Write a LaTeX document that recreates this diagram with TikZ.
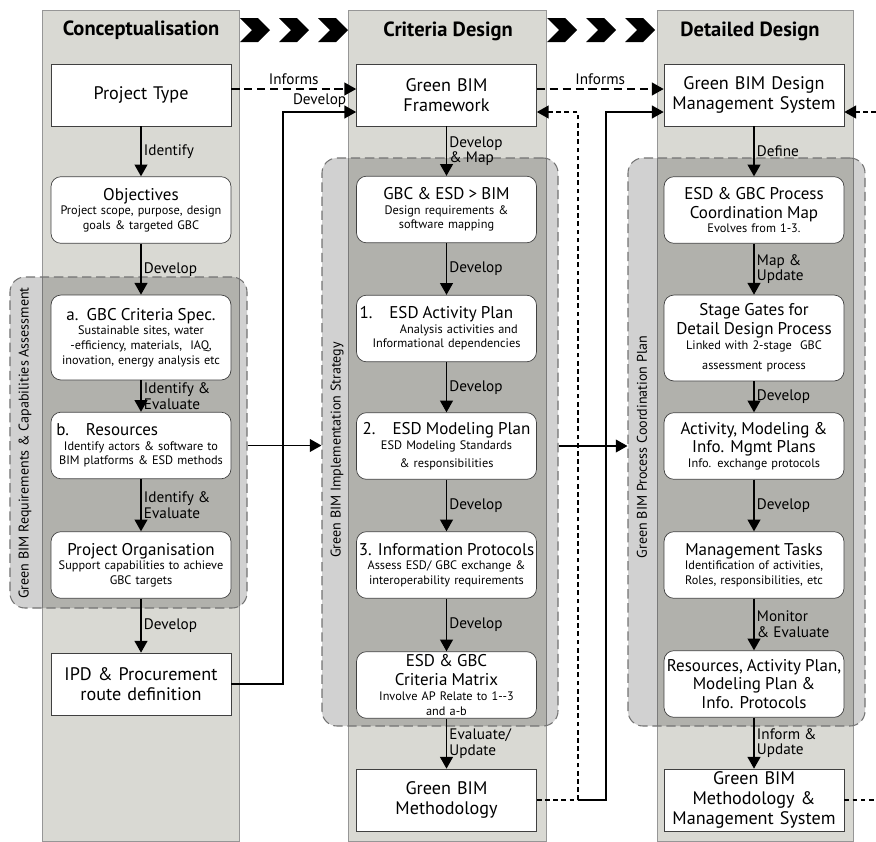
\documentclass[tikz,border=0pt]{standalone}
\usepackage{fontspec}
\setmainfont{PT Sans}
\usetikzlibrary{arrows.meta, positioning}
\definecolor{colgray}{RGB}{217,217,211}
\definecolor{edgegray}{RGB}{150,150,150}
\newcommand{\bhead}[1]{{\fontsize{14.5}{16}\selectfont #1\par}}

\begin{document}
\begin{tikzpicture}[
        x=0.3mm, y=-0.3mm,
        every node/.style={font=\fontsize{13}{13.5}\selectfont},
        phase/.style={fill=colgray, draw=edgegray, line width=0.5pt},
        region/.style={draw=black!55, dash pattern=on 8pt off 4pt, line width=0.9pt,
            fill=black, fill opacity=0.18, rounded corners=4.5mm, inner sep=0pt},
        box/.style={draw=black!75, fill=white, line width=0.6pt, rounded corners=3mm,
            text width=53.6mm, inner xsep=0.2mm, inner ysep=1pt, align=center,
            minimum height=20mm, font=\fontsize{10.5}{12.5}\selectfont},
        sbox/.style={box, sharp corners, minimum height=18.6mm, font=\fontsize{15.5}{17}\selectfont},
        flow/.style={-{Triangle[length=10pt,width=11pt]}, line width=1.1pt},
        lbl/.style={right, align=left, inner xsep=2pt, font=\fontsize{13}{13.5}\selectfont},
        informs/.style={flow, dash pattern=on 7pt off 4pt, line width=1pt},
        fback/.style={flow, dash pattern=on 4pt off 3pt, line width=1pt},
        strat/.style={rotate=90, font=\fontsize{12}{14}\selectfont},
        phasetitle/.style={font=\bfseries\fontsize{17.5}{20}\selectfont}
    ]
    \useasboundingbox (0,0) rectangle (876,841);

    % phase columns
    \draw[phase] (42,10) rectangle (239,841);
    \draw[phase] (348,10) rectangle (546,841);
    \draw[phase] (657,10) rectangle (853,841);
    \foreach \cx in {240,279,318,547,586,625}
        \fill (\cx,18) -- ++(18,0) -- ++(12,12) -- ++(-12,12) -- ++(-18,0) -- ++(12,-12) -- cycle;
    \node[phasetitle] (tconc) at (141,30) {Conceptualisation};
    \node[phasetitle] (tcrit) at (448,31) {Criteria Design};
    \node[phasetitle] (tdet) at (750,31) {Detailed Design};

    % grouped regions
    \node[region, minimum width=71.1mm, minimum height=99.3mm] (reqs) at (128.5,442.5) {};
    \node[region, minimum width=70.8mm, minimum height=170.4mm] (impl) at (440,442) {};
    \node[region, minimum width=71.1mm, minimum height=170.4mm] (coord) at (746.5,442) {};
    \node[strat] (lreqs) at (25,443) {Green BIM Requirements \& Capabilities Assessment};
    \node[strat] (limpl) at (337,450) {Green BIM Implementation Strategy};
    \node[strat] (lcoord) at (642,447) {Green BIM Process Coordination Plan};

    % conceptualisation
    \node[sbox] (ptype) at (141,95) {Project Type};
    \node[box] (obj) at (141,210) {\bhead{Objectives}Project scope, purpose, design\\ goals \& targeted GBC};
    \node[box, minimum height=25.5mm] (gbc) at (141,337.5) {\bhead{a.\ \ GBC Criteria Spec.}Sustainable sites, water\\ -efficiency, materials,\ \ IAQ,\\ inovation, energy analysis etc};
    \node[box] (res) at (141,445.5) {\bhead{\raggedright\hspace*{4pt}b.\quad Resources}Identify actors \& software to\\ BIM platforms \& ESD methods};
    \node[box] (porg) at (141,565) {\bhead{Project Organisation}Support capabilities to achieve\\ GBC targets};
    \node[sbox] (ipd) at (141,684) {IPD \& Procurement\\ route definition};

    % criteria design
    \node[sbox] (frame) at (446.5,95) {Green BIM\\ Framework};
    \node[box] (g2b) at (446.5,209.5) {\bhead{GBC \& ESD > BIM}Design requirements \&\\ software mapping};
    \node[box] (act) at (446.5,328.5) {\bhead{\raggedright\hspace*{2pt}1.\quad ESD Activity Plan}\hspace*{2em}Analysis activities and\\ Informational dependencies};
    \node[box] (mod) at (446.5,446) {\bhead{2.\quad ESD Modeling Plan}ESD Modeling Standards\\[3pt] \& responsibilities};
    \node[box] (prot) at (446.5,565) {\bhead{3. Information Protocols}Assess ESD/ GBC exchange \&\\ interoperability requirements};
    \node[box] (matrix) at (446.5,685) {\bhead{ESD \& GBC\\ Criteria Matrix}Involve AP Relate to 1-{}-3\\ and a-b};
    \node[sbox] (meth) at (446.5,800) {Green BIM\\ Methodology};

    % detailed design
    \node[sbox] (dms) at (754,95) {Green BIM Design\\ Management System};
    \node[box] (cmap) at (754,210) {\bhead{ESD \& GBC Process\\ Coordination Map}Evolves from 1-3.};
    \node[box, minimum height=25.8mm] (gates) at (754,338) {\bhead{Stage Gates for\\ Detail Design Process}Linked with 2-stage\ \ GBC\\[5pt] assessment process};
    \node[box] (plans) at (754,446) {\bhead{Activity, Modeling \&\\ Info. Mgmt Plans}Info. exchange protocols};
    \node[box] (tasks) at (754,565) {\bhead{Management Tasks}Identification of activities,\\ Roles, responsibilities, etc};
    \node[box] (rplan) at (754,684) {\bhead{Resources, Activity Plan,\\ Modeling Plan \&\\ Info. Protocols}};
    \node[sbox] (mms) at (754,800) {Green BIM\\ Methodology \&\\ Management System};

    % flows down each column
    \draw[flow] (ptype) -- node[lbl] {Identify} (obj);
    \draw[flow] (obj) -- node[lbl] {Develop} (gbc);
    \draw[flow] (gbc) -- node[lbl] {Identify \&\\ Evaluate} (res);
    \draw[flow] (res) -- node[lbl] {Identify \&\\ Evaluate} (porg);
    \draw[flow] (porg) -- node[lbl] {Develop} (ipd);

    \draw[flow] (frame) -- node[lbl] {Develop\\ \& Map} (g2b);
    \draw[flow] (g2b) -- node[lbl] {Develop} (act);
    \draw[flow] (act) -- node[lbl] {Develop} (mod);
    \draw[flow] (mod) -- node[lbl] {Develop} (prot);
    \draw[flow] (prot) -- node[lbl] {Develop} (matrix);
    \draw[flow] (matrix) -- node[lbl] {Evaluate/\\ Update} (meth);

    \draw[flow] (dms) -- node[lbl] {Define} (cmap);
    \draw[flow] (cmap) -- node[lbl] {Map \&\\ Update} (gates);
    \draw[flow] (gates) -- node[lbl] {Develop} (plans);
    \draw[flow] (plans) -- node[lbl] {Develop} (tasks);
    \draw[flow] (tasks) -- node[lbl] {Monitor\\ \& Evaluate} (rplan);
    \draw[flow] (rplan) -- node[lbl] {Inform \&\\ Update} (mms);

    % links between phases
    \coordinate (inf) at (0,89);
    \coordinate (devTurn) at (283,112);
    \coordinate (fbTurn) at (578,800);
    \coordinate (solTurn) at (606,800);
    \coordinate (edgeA) at (876,112);
    \coordinate (edgeB) at (876,800);
    \draw[informs] (ptype.east |- inf) -- node[above] {Informs} (frame.west |- inf);
    \draw[informs] (frame.east |- inf) -- node[above] {Informs} (dms.west |- inf);
    \draw[flow] (ipd.east) -| (devTurn) -- node[above] {Develop} (frame.west |- devTurn);
    \draw[flow] (reqs.east |- res) -- (impl.west |- res);
    \draw[flow] (impl.east |- mod) -- (coord.west |- mod);
    \draw[fback] (meth.east) -- (fbTurn) |- (frame.east |- devTurn);
    \draw[flow] (fbTurn) -- (solTurn) |- (dms.west |- devTurn);
    \draw[fback] (edgeA) -- (dms.east |- edgeA);
    \draw[fback, -] (mms.east) -- (edgeB);
\end{tikzpicture}
\end{document}
